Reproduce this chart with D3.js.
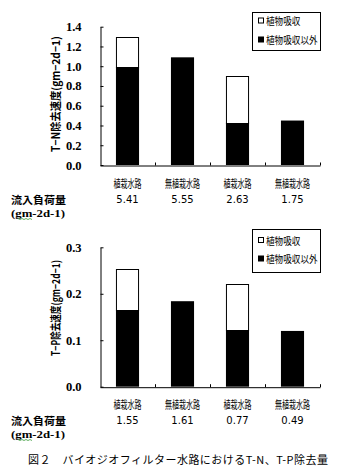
<!DOCTYPE html>
<html><head><meta charset="utf-8">
<script src="https://cdn.jsdelivr.net/npm/d3@7"></script>
<style>
body{margin:0;background:#fff;}
svg{display:block;}
text{fill:#000;}
</style></head>
<body>
<script>
const categories = ["植栽水路","無植栽水路","植栽水路","無植栽水路"];
const legendLabels = ["植物吸収","植物吸収以外"];
const tnOther = [0.99, 1.09, 0.43, 0.45];
const tnPlant = [0.31, 0.0, 0.47, 0.0];
const tpOther = [0.165, 0.184, 0.122, 0.120];
const tpPlant = [0.088, 0.0, 0.099, 0.0];
const tnLoad = ["5.41","5.55","2.63","1.75"];
const tpLoad = ["1.55","1.61","0.77","0.49"];
const tnTicks = [0, 0.2, 0.4, 0.6, 0.8, 1.0, 1.2, 1.4];
const tpTicks = [0, 0.1, 0.2, 0.3];
const loadLabel = "流入負荷量";
const loadUnit = "(gm-2d-1)";
const caption = "図２　バイオジオフィルター水路におけるT-N、T-P除去量";

const CJK = "'Noto Sans CJK JP', 'Noto Sans', sans-serif";
const W = 341, H = 474;
const svg = d3.select("body").append("svg").attr("width", W).attr("height", H)
  .style("font-family", CJK);

function drawChart(cfg) {
  const g = svg.append("g");
  const idx = categories.map((c, i) => i);
  const x = d3.scaleBand().domain(idx).range([100, 320]).paddingInner(0.58).paddingOuter(0.29);
  const y = d3.scaleLinear().domain([0, cfg.max]).range([cfg.y0, cfg.y1]);

  g.selectAll("rect.other").data(idx).join("rect")
    .attr("x", i => x(i)).attr("width", x.bandwidth())
    .attr("y", i => y(cfg.other[i])).attr("height", i => y(0) - y(cfg.other[i]))
    .attr("fill", "#000");
  g.selectAll("rect.plant").data(idx.filter(i => cfg.plant[i] > 0)).join("rect")
    .attr("x", i => x(i) + 0.5).attr("width", x.bandwidth() - 1)
    .attr("y", i => Math.round(y(cfg.other[i] + cfg.plant[i])) + 0.5)
    .attr("height", i => Math.round(y(cfg.other[i])) - Math.round(y(cfg.other[i] + cfg.plant[i])))
    .attr("fill", "#fff").attr("stroke", "#000").attr("stroke-width", 1);

  const ya = g.append("g").attr("transform", "translate(100.5,0)")
    .call(d3.axisLeft(y).tickValues(cfg.ticks).tickFormat(d3.format(".1f"))
      .tickSizeInner(-3).tickSizeOuter(0).tickPadding(19));
  ya.attr("font-family", null).attr("font-size", null);
  ya.selectAll("text").style("font-size", "12.5px").style("font-weight", "bold")
    .style("font-family", "'Liberation Serif', serif");
  ya.select(".domain").attr("stroke", "#000");

  const xb = d3.scaleLinear().domain([0, 4]).range([100, 320]);
  g.append("g").attr("transform", `translate(0,${cfg.y0 + 0.5})`)
    .call(d3.axisBottom(xb).tickValues([1, 2, 3, 4]).tickFormat("").tickSizeInner(-3).tickSizeOuter(0));

  g.selectAll("text.cat").data(idx).join("text")
    .attr("x", i => x(i) + x.bandwidth() / 2).attr("y", cfg.catY)
    .attr("text-anchor", "middle").attr("dominant-baseline", "central")
    .style("font-size", "11.5px")
    .attr("textLength", i => categories[i].length * 7).attr("lengthAdjust", "spacingAndGlyphs")
    .text(i => categories[i]);
  g.selectAll("text.load").data(idx).join("text")
    .attr("x", i => x(i) + x.bandwidth() / 2).attr("y", cfg.loadY)
    .attr("text-anchor", "middle").attr("dominant-baseline", "central")
    .style("font-size", "10px").style("font-family", "'DejaVu Sans', sans-serif")
    .text(i => cfg.load[i]);

  g.append("text").attr("x", 11).attr("y", cfg.loadY).attr("dominant-baseline", "central")
    .style("font-size", "10.5px").style("font-weight", "bold")
    .attr("textLength", 55).attr("lengthAdjust", "spacingAndGlyphs").text(loadLabel);
  g.append("text").attr("x", 11).attr("y", cfg.loadY + 14).attr("dominant-baseline", "central")
    .style("font-size", "11px").style("font-weight", "bold").style("font-family", "'Liberation Serif', serif")
    .attr("textLength", 54).attr("lengthAdjust", "spacingAndGlyphs").text(loadUnit);
  const sq = d3.range(0, 8).map(k => [18 + k * 2, cfg.loadY + 19.5 + (k % 2 ? 1 : 0)]);
  g.append("path").attr("d", d3.line()(sq)).attr("fill", "none").attr("stroke", "#3a9a3a").attr("stroke-width", 0.8);

  g.append("text").attr("transform", `translate(${cfg.labX},${cfg.labY}) rotate(-90)`)
    .attr("text-anchor", "middle").attr("dominant-baseline", "central")
    .style("font-size", "11px").style("font-weight", "bold")
    .attr("textLength", cfg.labLen).attr("lengthAdjust", "spacingAndGlyphs")
    .text(cfg.label);

  const lg = g.append("g");
  lg.append("rect").attr("x", 252.5).attr("y", cfg.legTop + 0.5).attr("width", 68).attr("height", cfg.legH)
    .attr("fill", "#fff").attr("stroke", "#000");
  legendLabels.forEach((t, k) => {
    const yy = cfg.legTop + cfg.legItems[k];
    lg.append("rect").attr("x", k === 0 ? 258.5 : 258).attr("y", k === 0 ? yy - 2.5 : yy - 3)
      .attr("width", k === 0 ? 5 : 6).attr("height", k === 0 ? 5 : 6)
      .attr("fill", k === 0 ? "#fff" : "#000").attr("stroke", k === 0 ? "#000" : "none");
    lg.append("text").attr("x", 266).attr("y", yy).attr("dominant-baseline", "central")
      .style("font-size", "10px")
      .attr("textLength", t.length * 8.6).attr("lengthAdjust", "spacingAndGlyphs").text(t);
  });
}

drawChart({max: 1.4, y0: 165, y1: 26.7, other: tnOther, plant: tnPlant, ticks: tnTicks, load: tnLoad,
  catY: 183, loadY: 199, label: "T−N除去速度(gm−2d−1)", labX: 55, labY: 94, labLen: 116,
  legTop: 12, legH: 38, legItems: [8.5, 27.5]});
drawChart({max: 0.3, y0: 386.7, y1: 247.3, other: tpOther, plant: tpPlant, ticks: tpTicks, load: tpLoad,
  catY: 404, loadY: 420, label: "T−P除去速度(gm−2d−1)", labX: 55, labY: 308, labLen: 96,
  legTop: 229, legH: 43, legItems: [11, 29.5]});

svg.append("text").attr("x", 28).attr("y", 459).attr("dominant-baseline", "central")
  .style("font-size", "11px").attr("textLength", 300).attr("lengthAdjust", "spacing").text(caption);
</script>
</body></html>
